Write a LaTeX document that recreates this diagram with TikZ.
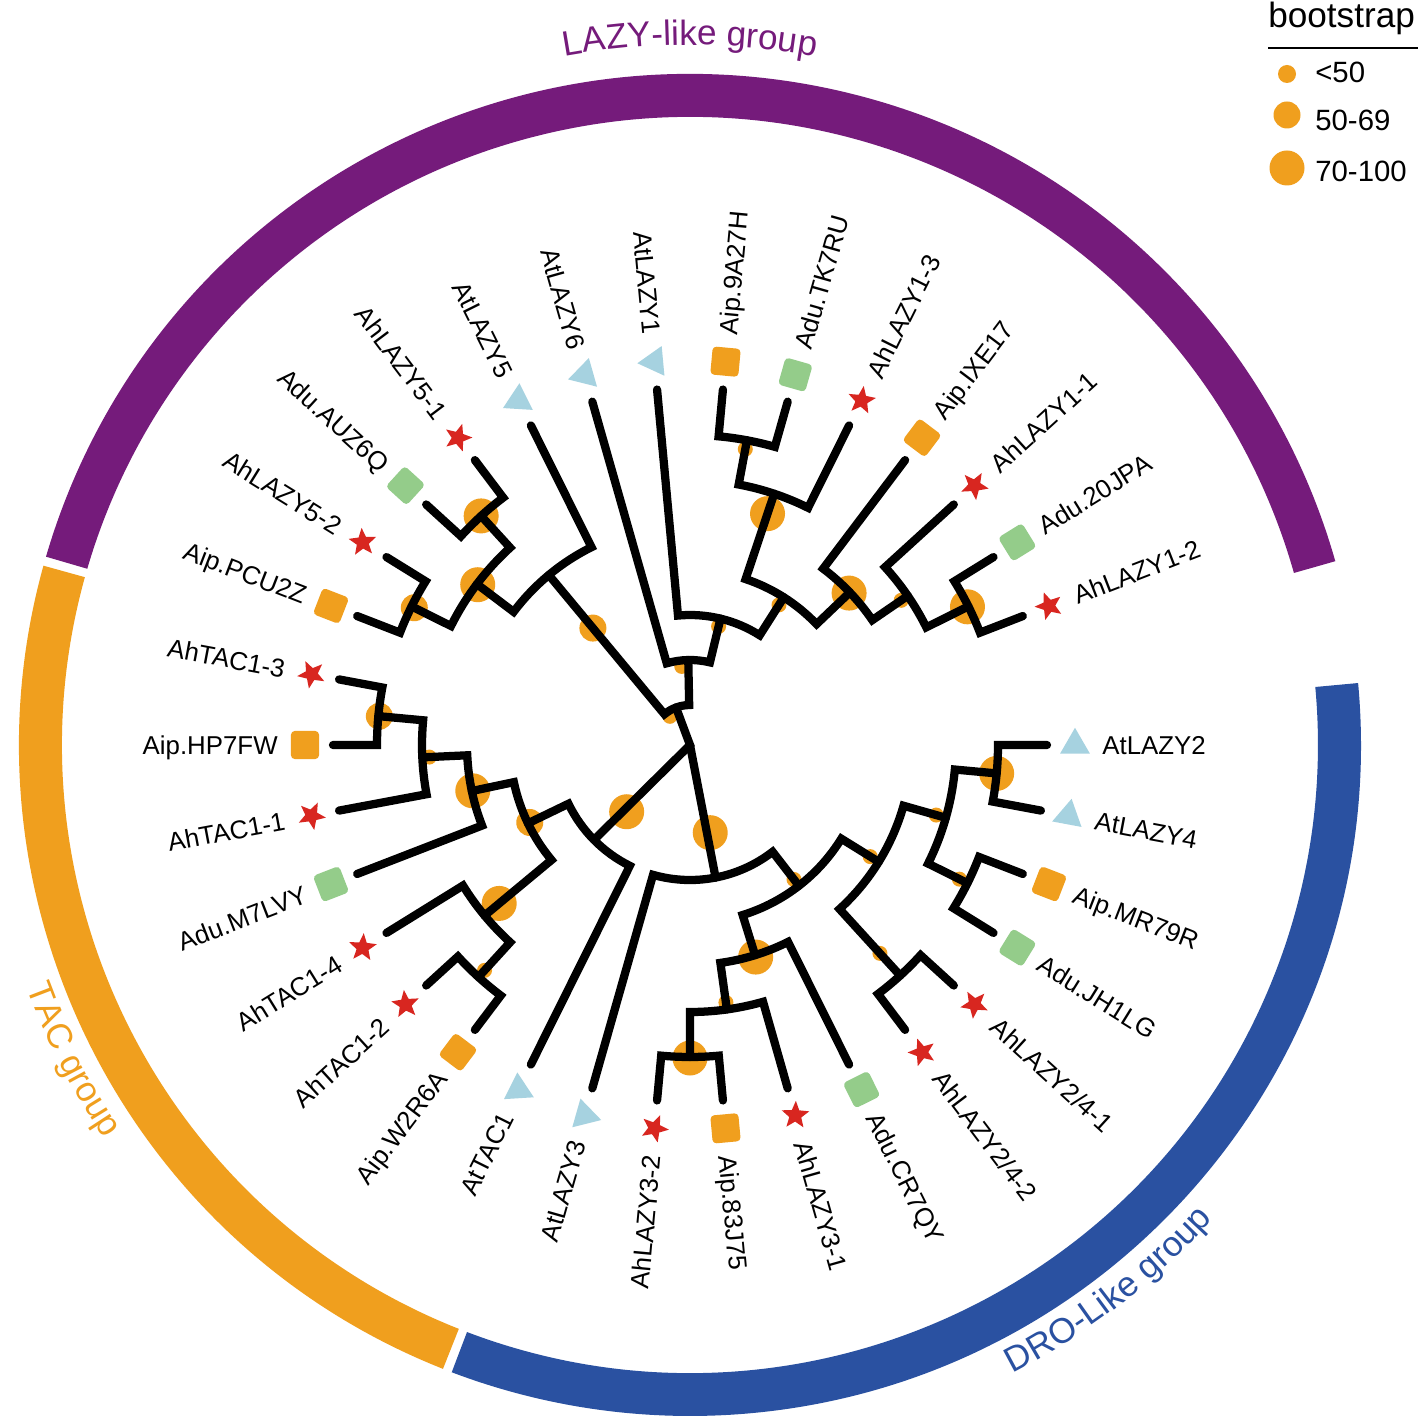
\documentclass[tikz,border=0pt]{standalone}
\usepackage{fontspec}
\setmainfont{Liberation Sans}
\usetikzlibrary{shapes.geometric,decorations.text}

\definecolor{bsorange}{RGB}{240,159,30}
\definecolor{lazypurple}{RGB}{117,27,123}
\definecolor{droblue}{RGB}{42,81,161}
\definecolor{adugreen}{RGB}{148,204,138}
\definecolor{atblue}{RGB}{166,210,224}
\definecolor{ahred}{RGB}{216,38,32}

\newcommand\grpfont{\fontsize{20pt}{24pt}\selectfont}

\begin{document}
\begin{tikzpicture}[x=0.02cm, y=0.02cm,
    branch/.style={line width=4.7pt, line cap=round, line join=miter},
    lblR/.style={anchor=west, inner sep=0pt, text height=10.5pt, text depth=0pt, font=\fontsize{14.7pt}{17pt}\selectfont},
    lblL/.style={lblR, anchor=east},
    aipmark/.style={rectangle, rounded corners=2.2pt, fill=bsorange, minimum size=16pt, inner sep=0pt},
    adumark/.style={aipmark, fill=adugreen},
    ahmark/.style={star, star points=5, star point ratio=2.3, fill=ahred, minimum size=16.5pt, inner sep=0pt},
    atmark/.style={regular polygon, regular polygon sides=3, fill=atblue, minimum size=19.6pt, inner sep=0pt},
    legtext/.style={anchor=base west, inner sep=0pt, font=\fontsize{16.7pt}{20pt}\selectfont}]
    \useasboundingbox[fill=white] (-690,-679) rectangle (732,745);

    % group ring
    \fill[lazypurple] (15.9:628) arc[start angle=15.9, end angle=163.7, radius=628] -- (163.7:671) arc[start angle=163.7, end angle=15.9, radius=671] -- cycle;
    \fill[bsorange] (164.5:628) arc[start angle=164.5, end angle=248.4, radius=628] -- (248.4:671) arc[start angle=248.4, end angle=164.5, radius=671] -- cycle;
    \fill[droblue] (-110.8:628) arc[start angle=-110.8, end angle=5.3, radius=628] -- (5.3:671) arc[start angle=5.3, end angle=-110.8, radius=671] -- cycle;
    \path[decorate, decoration={text along path, text align=center, text color=lazypurple, text={|\grpfont|LAZY-like group}}] (115:700) arc[start angle=115, end angle=65, radius=700];
    \path[decorate, decoration={text along path, text align=center, text color=bsorange, text={|\grpfont|TAC group}}] (-180:706) arc[start angle=-180, end angle=-126, radius=706];
    \path[decorate, decoration={text along path, text align=center, text color=droblue, text={|\grpfont|DRO-Like group}}] (-80:706) arc[start angle=-80, end angle=-25, radius=706];

    % legend
    \node (bstitle) [anchor=base west, inner sep=0pt, font=\fontsize{20pt}{24pt}\selectfont] at (578,717) {bootstrap};
    \draw[line width=1.1pt] (578,697) -- (728,697);
    \fill[bsorange] (597,671) circle[radius=9];
    \fill[bsorange] (597,630) circle[radius=13.5];
    \fill[bsorange] (597,577) circle[radius=17.5];
    \node (bs_low) [legtext] at (625,662) {<50};
    \node (bs_mid) [legtext] at (625,614) {50-69};
    \node (bs_high) [legtext] at (625,563) {70-100};

    % bootstrap support
    \fill[bsorange] (-5.294:308) circle[radius=17.5];
    \fill[bsorange] (-15.882:256) circle[radius=7.5];
    \fill[bsorange] (-26.471:301) circle[radius=7.5];
    \fill[bsorange] (-31.765:212) circle[radius=7.5];
    \fill[bsorange] (-47.647:282) circle[radius=7.5];
    \fill[bsorange] (-52.279:170) circle[radius=7.5];
    \fill[bsorange] (-72.794:222) circle[radius=17.5];
    \fill[bsorange] (-82.059:260) circle[radius=7.5];
    \fill[bsorange] (-90:313) circle[radius=17.5];
    \fill[bsorange] (-77:90) circle[radius=17.5];
    \fill[bsorange] (-133.5:92) circle[radius=17.5];
    \fill[bsorange] (-185.294:312) circle[radius=13.5];
    \fill[bsorange] (-177.353:261) circle[radius=7.5];
    \fill[bsorange] (-168.088:222) circle[radius=17.5];
    \fill[bsorange] (-154.191:178) circle[radius=13.5];
    \fill[bsorange] (-140.294:248) circle[radius=17.5];
    \fill[bsorange] (-132.353:305) circle[radius=7.5];
    \fill[bsorange] (132.353:310) circle[radius=17.5];
    \fill[bsorange] (142.941:266) circle[radius=17.5];
    \fill[bsorange] (153.529:308) circle[radius=13.5];
    \fill[bsorange] (129.706:152) circle[radius=13.5];
    \fill[bsorange] (96:79) circle[radius=7.5];
    \fill[bsorange] (125:35) circle[radius=7.5];
    \fill[bsorange] (79.412:301) circle[radius=7.5];
    \fill[bsorange] (71.471:244) circle[radius=17.5];
    \fill[bsorange] (57.574:166) circle[radius=7.5];
    \fill[bsorange] (43.676:220) circle[radius=17.5];
    \fill[bsorange] (34.412:256) circle[radius=7.5];
    \fill[bsorange] (26.471:310) circle[radius=17.5];
    \fill[bsorange] (76.434:122) circle[radius=7.5];

    % leaf tips
    \coordinate (atlazy2_tip) at (0:357);
    \coordinate (atlazy4_tip) at (-10.588:357);
    \coordinate (aip_mr79r_tip) at (-21.176:357);
    \coordinate (adu_jh1lg_tip) at (-31.765:357);
    \coordinate (ahlazy24_1_tip) at (-42.353:357);
    \coordinate (ahlazy24_2_tip) at (-52.941:357);
    \coordinate (adu_cr7qy_tip) at (-63.529:357);
    \coordinate (ahlazy31_tip) at (-74.118:357);
    \coordinate (aip_83j75_tip) at (-84.706:357);
    \coordinate (ahlazy32_tip) at (-95.294:357);
    \coordinate (atlazy3_tip) at (-105.882:357);
    \coordinate (attac1_tip) at (-116.471:357);
    \coordinate (aip_w2r6a_tip) at (-127.059:357);
    \coordinate (ahtac12_tip) at (-137.647:357);
    \coordinate (ahtac14_tip) at (-148.235:357);
    \coordinate (adu_m7lvy_tip) at (-158.824:357);
    \coordinate (ahtac11_tip) at (-169.412:357);
    \coordinate (aip_hp7fw_tip) at (-180:357);
    \coordinate (ahtac13_tip) at (-190.588:357);
    \coordinate (aip_pcu2z_tip) at (158.824:357);
    \coordinate (ahlazy52_tip) at (148.235:357);
    \coordinate (adu_auz6q_tip) at (137.647:357);
    \coordinate (ahlazy51_tip) at (127.059:357);
    \coordinate (atlazy5_tip) at (116.471:357);
    \coordinate (atlazy6_tip) at (105.882:357);
    \coordinate (atlazy1_tip) at (95.294:357);
    \coordinate (aip_9a27h_tip) at (84.706:357);
    \coordinate (adu_tk7ru_tip) at (74.118:357);
    \coordinate (ahlazy13_tip) at (63.529:357);
    \coordinate (aip_ixe17_tip) at (52.941:357);
    \coordinate (ahlazy11_tip) at (42.353:357);
    \coordinate (adu_20jpa_tip) at (31.765:357);
    \coordinate (ahlazy12_tip) at (21.176:357);

    % inner nodes
    \coordinate (n01) at (-5.294:308);
    \coordinate (n23) at (-26.471:310);
    \coordinate (n0123) at (-15.882:266);
    \coordinate (n45) at (-47.647:312);
    \coordinate (n0to5) at (-31.765:222);
    \coordinate (n89) at (-90:312);
    \coordinate (n789) at (-82.059:267);
    \coordinate (n6to9) at (-72.794:220);
    \coordinate (n0to9) at (-52.279:178);
    \coordinate (dro) at (-79.081:135);
    \coordinate (n1213) at (-132.353:314);
    \coordinate (n12to14) at (-140.294:267);
    \coordinate (n1718) at (-185.294:313);
    \coordinate (n16to18) at (-177.353:268);
    \coordinate (n15to18) at (-168.088:223);
    \coordinate (n12to18) at (-154.191:180);
    \coordinate (tac) at (-135.331:135);
    \coordinate (n1920) at (153.529:311);
    \coordinate (n2122) at (132.353:310);
    \coordinate (n19to22) at (142.941:267);
    \coordinate (n19to23) at (129.706:221);
    \coordinate (n2627) at (79.412:310);
    \coordinate (n26to28) at (71.471:265);
    \coordinate (n3132) at (26.471:311);
    \coordinate (n30to32) at (34.412:264);
    \coordinate (n29to32) at (43.676:221);
    \coordinate (n26to32) at (57.574:175);
    \coordinate (n25to32) at (76.434:130);
    \coordinate (n24to32) at (91.158:85);
    \coordinate (lazy) at (110.432:40);
    \coordinate (root) at (0,0);

    % DRO-like clade
    \draw[branch] (atlazy2_tip) -- (0:308) arc[start angle=0, end angle=-10.588, radius=308] -- (atlazy4_tip);
    \draw[branch] (aip_mr79r_tip) -- (-21.176:310) arc[start angle=-21.176, end angle=-31.765, radius=310] -- (adu_jh1lg_tip);
    \draw[branch] (n01) -- (-5.294:266) arc[start angle=-5.294, end angle=-26.471, radius=266] -- (n23);
    \draw[branch] (ahlazy24_1_tip) -- (-42.353:312) arc[start angle=-42.353, end angle=-52.941, radius=312] -- (ahlazy24_2_tip);
    \draw[branch] (n0123) -- (-15.882:222) arc[start angle=-15.882, end angle=-47.647, radius=222] -- (n45);
    \draw[branch] (aip_83j75_tip) -- (-84.706:312) arc[start angle=-84.706, end angle=-95.294, radius=312] -- (ahlazy32_tip);
    \draw[branch] (ahlazy31_tip) -- (-74.118:267) arc[start angle=-74.118, end angle=-90, radius=267] -- (n89);
    \draw[branch] (adu_cr7qy_tip) -- (-63.529:220) arc[start angle=-63.529, end angle=-82.059, radius=220] -- (n789);
    \draw[branch] (n0to5) -- (-31.765:178) arc[start angle=-31.765, end angle=-72.794, radius=178] -- (n6to9);
    \draw[branch] (n0to9) -- (-52.279:135) arc[start angle=-52.279, end angle=-105.882, radius=135] -- (atlazy3_tip);

    % TAC clade
    \draw[branch] (aip_w2r6a_tip) -- (-127.059:314) arc[start angle=-127.059, end angle=-137.647, radius=314] -- (ahtac12_tip);
    \draw[branch] (n1213) -- (-132.353:267) arc[start angle=-132.353, end angle=-148.235, radius=267] -- (ahtac14_tip);
    \draw[branch] (aip_hp7fw_tip) -- (-180:313) arc[start angle=-180, end angle=-190.588, radius=313] -- (ahtac13_tip);
    \draw[branch] (ahtac11_tip) -- (-169.412:268) arc[start angle=-169.412, end angle=-185.294, radius=268] -- (n1718);
    \draw[branch] (adu_m7lvy_tip) -- (-158.824:223) arc[start angle=-158.824, end angle=-177.353, radius=223] -- (n16to18);
    \draw[branch] (n12to14) -- (-140.294:180) arc[start angle=-140.294, end angle=-168.088, radius=180] -- (n15to18);
    \draw[branch] (attac1_tip) -- (-116.471:135) arc[start angle=-116.471, end angle=-154.191, radius=135] -- (n12to18);

    % LAZY-like clade
    \draw[branch] (aip_pcu2z_tip) -- (158.824:311) arc[start angle=158.824, end angle=148.235, radius=311] -- (ahlazy52_tip);
    \draw[branch] (adu_auz6q_tip) -- (137.647:310) arc[start angle=137.647, end angle=127.059, radius=310] -- (ahlazy51_tip);
    \draw[branch] (n1920) -- (153.529:267) arc[start angle=153.529, end angle=132.353, radius=267] -- (n2122);
    \draw[branch] (n19to22) -- (142.941:221) arc[start angle=142.941, end angle=116.471, radius=221] -- (atlazy5_tip);
    \draw[branch] (aip_9a27h_tip) -- (84.706:310) arc[start angle=84.706, end angle=74.118, radius=310] -- (adu_tk7ru_tip);
    \draw[branch] (n2627) -- (79.412:265) arc[start angle=79.412, end angle=63.529, radius=265] -- (ahlazy13_tip);
    \draw[branch] (adu_20jpa_tip) -- (31.765:311) arc[start angle=31.765, end angle=21.176, radius=311] -- (ahlazy12_tip);
    \draw[branch] (ahlazy11_tip) -- (42.353:264) arc[start angle=42.353, end angle=26.471, radius=264] -- (n3132);
    \draw[branch] (aip_ixe17_tip) -- (52.941:221) arc[start angle=52.941, end angle=34.412, radius=221] -- (n30to32);
    \draw[branch] (n26to28) -- (71.471:175) arc[start angle=71.471, end angle=43.676, radius=175] -- (n29to32);
    \draw[branch] (atlazy1_tip) -- (95.294:130) arc[start angle=95.294, end angle=57.574, radius=130] -- (n26to32);
    \draw[branch] (atlazy6_tip) -- (105.882:85) arc[start angle=105.882, end angle=76.434, radius=85] -- (n25to32);
    \draw[branch] (n19to23) -- (129.706:40) arc[start angle=129.706, end angle=91.158, radius=40] -- (n24to32);

    % root
    \draw[branch] (lazy) -- (root) -- (tac);
    \draw[branch] (root) -- (dro);

    % leaf marks and labels
    \node (atlazy2_m) [atmark, rotate=0] at (0:385) {};
    \node (atlazy4_m) [atmark, rotate=-10.588] at (-10.588:385) {};
    \node (aip_mr79r_m) [aipmark, rotate=-21.176] at (-21.176:385) {};
    \node (adu_jh1lg_m) [adumark, rotate=-31.765] at (-31.765:385) {};
    \node (ahlazy24_1_m) [ahmark, rotate=-42.353] at (-42.353:385) {};
    \node (ahlazy24_2_m) [ahmark, rotate=-52.941] at (-52.941:385) {};
    \node (adu_cr7qy_m) [adumark, rotate=-63.529] at (-63.529:385) {};
    \node (ahlazy31_m) [ahmark, rotate=-74.118] at (-74.118:385) {};
    \node (aip_83j75_m) [aipmark, rotate=-84.706] at (-84.706:385) {};
    \node (ahlazy32_m) [ahmark, rotate=-95.294] at (-95.294:385) {};
    \node (atlazy3_m) [atmark, rotate=-105.882] at (-105.882:385) {};
    \node (attac1_m) [atmark, rotate=-116.471] at (-116.471:385) {};
    \node (aip_w2r6a_m) [aipmark, rotate=-127.059] at (-127.059:385) {};
    \node (ahtac12_m) [ahmark, rotate=-137.647] at (-137.647:385) {};
    \node (ahtac14_m) [ahmark, rotate=-148.235] at (-148.235:385) {};
    \node (adu_m7lvy_m) [adumark, rotate=-158.824] at (-158.824:385) {};
    \node (ahtac11_m) [ahmark, rotate=-169.412] at (-169.412:385) {};
    \node (aip_hp7fw_m) [aipmark, rotate=-180] at (-180:385) {};
    \node (ahtac13_m) [ahmark, rotate=-190.588] at (-190.588:385) {};
    \node (aip_pcu2z_m) [aipmark, rotate=158.824] at (158.824:385) {};
    \node (ahlazy52_m) [ahmark, rotate=148.235] at (148.235:385) {};
    \node (adu_auz6q_m) [adumark, rotate=137.647] at (137.647:385) {};
    \node (ahlazy51_m) [ahmark, rotate=127.059] at (127.059:385) {};
    \node (atlazy5_m) [atmark, rotate=116.471] at (116.471:385) {};
    \node (atlazy6_m) [atmark, rotate=105.882] at (105.882:385) {};
    \node (atlazy1_m) [atmark, rotate=95.294] at (95.294:385) {};
    \node (aip_9a27h_m) [aipmark, rotate=84.706] at (84.706:385) {};
    \node (adu_tk7ru_m) [adumark, rotate=74.118] at (74.118:385) {};
    \node (ahlazy13_m) [ahmark, rotate=63.529] at (63.529:385) {};
    \node (aip_ixe17_m) [aipmark, rotate=52.941] at (52.941:385) {};
    \node (ahlazy11_m) [ahmark, rotate=42.353] at (42.353:385) {};
    \node (adu_20jpa_m) [adumark, rotate=31.765] at (31.765:385) {};
    \node (ahlazy12_m) [ahmark, rotate=21.176] at (21.176:385) {};

    \node (atlazy2) [lblR, rotate=0] at (0:412) {AtLAZY2};
    \node (atlazy4) [lblR, rotate=-10.588] at (-10.588:412) {AtLAZY4};
    \node (aip_mr79r) [lblR, rotate=-21.176] at (-21.176:412) {Aip.MR79R};
    \node (adu_jh1lg) [lblR, rotate=-31.765] at (-31.765:412) {Adu.JH1LG};
    \node (ahlazy24_1) [lblR, rotate=-42.353] at (-42.353:412) {AhLAZY2/4-1};
    \node (ahlazy24_2) [lblR, rotate=-52.941] at (-52.941:412) {AhLAZY2/4-2};
    \node (adu_cr7qy) [lblR, rotate=-63.529] at (-63.529:412) {Adu.CR7QY};
    \node (ahlazy31) [lblR, rotate=-74.118] at (-74.118:412) {AhLAZY3-1};
    \node (aip_83j75) [lblR, rotate=-84.706] at (-84.706:412) {Aip.83J75};
    \node (ahlazy32) [lblL, rotate=84.706] at (-95.294:412) {AhLAZY3-2};
    \node (atlazy3) [lblL, rotate=74.118] at (-105.882:412) {AtLAZY3};
    \node (attac1) [lblL, rotate=63.529] at (-116.471:412) {AtTAC1};
    \node (aip_w2r6a) [lblL, rotate=52.941] at (-127.059:412) {Aip.W2R6A};
    \node (ahtac12) [lblL, rotate=42.353] at (-137.647:412) {AhTAC1-2};
    \node (ahtac14) [lblL, rotate=31.765] at (-148.235:412) {AhTAC1-4};
    \node (adu_m7lvy) [lblL, rotate=21.176] at (-158.824:412) {Adu.M7LVY};
    \node (ahtac11) [lblL, rotate=10.588] at (-169.412:412) {AhTAC1-1};
    \node (aip_hp7fw) [lblL, rotate=0] at (-180:412) {Aip.HP7FW};
    \node (ahtac13) [lblL, rotate=-10.588] at (-190.588:412) {AhTAC1-3};
    \node (aip_pcu2z) [lblL, rotate=-21.176] at (158.824:412) {Aip.PCU2Z};
    \node (ahlazy52) [lblL, rotate=-31.765] at (148.235:412) {AhLAZY5-2};
    \node (adu_auz6q) [lblL, rotate=-42.353] at (137.647:412) {Adu.AUZ6Q};
    \node (ahlazy51) [lblL, rotate=-52.941] at (127.059:412) {AhLAZY5-1};
    \node (atlazy5) [lblL, rotate=-63.529] at (116.471:412) {AtLAZY5};
    \node (atlazy6) [lblL, rotate=-74.118] at (105.882:412) {AtLAZY6};
    \node (atlazy1) [lblL, rotate=-84.706] at (95.294:412) {AtLAZY1};
    \node (aip_9a27h) [lblR, rotate=84.706] at (84.706:412) {Aip.9A27H};
    \node (adu_tk7ru) [lblR, rotate=74.118] at (74.118:412) {Adu.TK7RU};
    \node (ahlazy13) [lblR, rotate=63.529] at (63.529:412) {AhLAZY1-3};
    \node (aip_ixe17) [lblR, rotate=52.941] at (52.941:412) {Aip.IXE17};
    \node (ahlazy11) [lblR, rotate=42.353] at (42.353:412) {AhLAZY1-1};
    \node (adu_20jpa) [lblR, rotate=31.765] at (31.765:412) {Adu.20JPA};
    \node (ahlazy12) [lblR, rotate=21.176] at (21.176:412) {AhLAZY1-2};
\end{tikzpicture}
\end{document}
